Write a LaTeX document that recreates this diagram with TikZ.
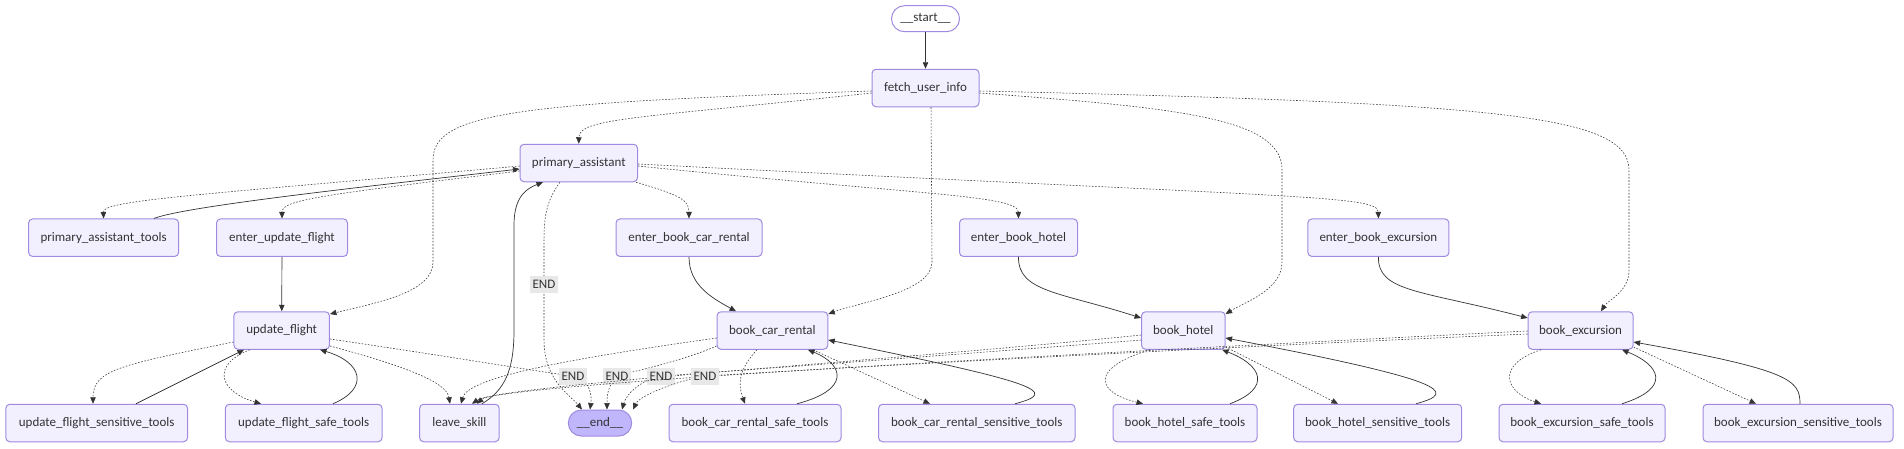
\documentclass[tikz,border=0pt]{standalone}
\usepackage{fontspec}
\setmainfont{Carlito}
\usetikzlibrary{arrows.meta}
\definecolor{NodeFill}{HTML}{F2F0FF}
\definecolor{NodeLine}{HTML}{A08AE0}
\definecolor{FinishFill}{HTML}{BFB6FC}
\definecolor{Ink}{HTML}{333333}
\definecolor{LabelBg}{HTML}{E8E8E8}

\begin{document}
\begin{tikzpicture}[x=1pt,y=-1pt,font=\fontsize{13}{15}\selectfont,text=Ink,
  box/.style={draw=NodeLine,fill=NodeFill,line width=1pt,rounded corners=4pt,minimum height=37.5,inner sep=0},
  term/.style={draw=NodeLine,line width=1pt,rounded corners=13pt,minimum height=26,inner sep=0},
  flow/.style={draw=Ink,line width=0.7pt,-{Triangle[length=6.5pt,width=5.5pt]}},
  cond/.style={flow,line width=0.55pt,dash pattern=on 1.6pt off 1.6pt},
  endlbl/.style={fill=LabelBg,minimum width=28,minimum height=17,inner sep=0}]
  \fill[white] (0,0) rectangle (1904,448);
  \node[term,fill=white,minimum width=68] (start) at (925.5,18.7) {\_\_start\_\_};
  \node[box,minimum width=107] (fetch) at (925.5,88) {fetch\_user\_info};
  \node[box,minimum width=117.5] (pa) at (578.8,163) {primary\_assistant};
  \foreach \n/\x/\w/\txt in {patools/103.6/150/primary\_assistant\_tools,euf/282/131/enter\_update\_flight,
      ecar/689/146/enter\_book\_car\_rental,ehotel/1018.5/118/enter\_book\_hotel,eexc/1378.4/141/enter\_book\_excursion}
    \node[box,minimum width=\w] (\n) at (\x,237.7) {\txt};
  \foreach \n/\x/\w/\txt in {uf/281.7/95.5/update\_flight,car/772.4/110.7/book\_car\_rental,
      hotel/1183.3/83.5/book\_hotel,exc/1580.6/105/book\_excursion}
    \node[box,minimum width=\w] (\n) at (\x,330.5) {\txt};
  \foreach \n/\x/\w/\txt in {ufsens/96.7/181.7/update\_flight\_sensitive\_tools,ufsafe/303.7/156.7/update\_flight\_safe\_tools,
      leave/459.4/79.5/leave\_skill,carsafe/755/172/book\_car\_rental\_safe\_tools,
      carsens/976.8/196.4/book\_car\_rental\_sensitive\_tools,hotelsafe/1185/144/book\_hotel\_safe\_tools,
      hotelsens/1377.7/168/book\_hotel\_sensitive\_tools,excsafe/1582/166/book\_excursion\_safe\_tools,
      excsens/1798/190/book\_excursion\_sensitive\_tools}
    \node[box,minimum width=\w] (\n) at (\x,423) {\txt};
  \node[term,fill=FinishFill,minimum width=63.4] (finish) at (600,423) {\_\_end\_\_};

  \draw[flow] (start) -- (fetch);
  \draw[cond] (fetch.west |- 0,93) .. controls (640,118) and (579,118) .. (pa.north);
  \draw[cond] (fetch.west |- 0,91) .. controls (520,103) and (433,112) .. (433,160) -- (433,262)
    .. controls (433,292) and (380,302) .. (uf.east |- 0,314);
  \draw[cond] (931,0 |- fetch.south) -- (932,262) .. controls (932,292) and (860,302) .. (car.east |- 0,314);
  \draw[cond] (fetch.east |- 0,93) .. controls (1180,108) and (1282,118) .. (1282,170) -- (1282,262)
    .. controls (1282,290) and (1245,302) .. (hotel.east |- 0,314);
  \draw[cond] (fetch.east |- 0,91) .. controls (1500,103) and (1629,115) .. (1629,170) -- (1629,270)
    .. controls (1629,292) and (1608,300) .. (1601,0 |- exc.north);

  \draw[cond] (pa.west |- 0,166) .. controls (200,195) and (103,200) .. (patools.north);
  \draw[flow] (154,0 |- patools.north) .. controls (185,206) and (380,185) .. (pa.west |- 0,169);
  \draw[cond] (pa.west |- 0,171) .. controls (320,195) and (282,200) .. (euf.north);
  \draw[cond] (636,0 |- pa.south) .. controls (680,195) and (689,200) .. (ecar.north);
  \draw[cond] (pa.east |- 0,166) .. controls (920,195) and (1018,195) .. (ehotel.north);
  \draw[cond] (pa.east |- 0,164) .. controls (1300,198) and (1378,195) .. (eexc.north);
  \draw[cond] (560,0 |- pa.south) .. controls (547,200) and (544,215) .. (544,240)
    -- node[endlbl,pos=.44] {END} (544,340) .. controls (544,380) and (570,395) .. (582,0 |- finish.north);
  \draw[flow] (482,0 |- leave.north) .. controls (505,390) and (514,370) .. (514,330) -- (514,225)
    .. controls (514,195) and (528,188) .. (543,0 |- pa.south);

  \draw[flow] (euf) -- (uf);
  \draw[flow] (ecar.south) .. controls (689,285) and (712,298) .. (736,0 |- car.north);
  \draw[flow] (ehotel.south) .. controls (1018,292) and (1060,292) .. (hotel.west |- 0,318);
  \draw[flow] (eexc.south) .. controls (1378,292) and (1420,290) .. (exc.west |- 0,318);

  \draw[cond] (uf.west |- 0,342) .. controls (120,365) and (93,370) .. (93,0 |- ufsens.north);
  \draw[flow] (136,0 |- ufsens.north) -- (244,0 |- uf.south);
  \draw[cond] (250,0 |- uf.south) .. controls (210,365) and (220,392) .. (261,0 |- ufsafe.north);
  \draw[flow] (333,0 |- ufsafe.north) .. controls (370,388) and (362,362) .. (320,0 |- uf.south);
  \draw[cond] (uf.east |- 0,346) .. controls (420,370) and (447,385) .. (450,0 |- leave.north);
  \draw[cond] (uf.east |- 0,339) .. controls (460,358) and (540,372) .. (573,376) node[endlbl] {END}
    .. controls (590,380) and (592,395) .. (590,0 |- finish.north);

  \draw[cond] (car.west |- 0,338) .. controls (560,360) and (468,378) .. (461,0 |- leave.north);
  \draw[cond] (car.west |- 0,346) .. controls (680,362) and (630,372) .. (617,376) node[endlbl] {END}
    .. controls (608,385) and (607,395) .. (607,0 |- finish.north);
  \draw[cond] (757,0 |- car.south) .. controls (738,370) and (738,385) .. (745,0 |- carsafe.north);
  \draw[flow] (797,0 |- carsafe.north) .. controls (850,390) and (845,365) .. (808,0 |- car.south);
  \draw[cond] (813,0 |- car.south) -- (930,0 |- carsens.north);
  \draw[flow] (1015,0 |- carsens.north) .. controls (1060,392) and (1040,383) .. (car.east |- 0,340);

  \draw[cond] (hotel.west |- 0,335) .. controls (900,360) and (500,385) .. (472,0 |- leave.north);
  \draw[cond] (hotel.west |- 0,340) .. controls (950,355) and (720,372) .. (661,376) node[endlbl] {END}
    .. controls (640,380) and (626,395) .. (622,0 |- finish.north);
  \draw[cond] (1150,0 |- hotel.south) .. controls (1090,368) and (1095,392) .. (1143,0 |- hotelsafe.north);
  \draw[flow] (1230,0 |- hotelsafe.north) .. controls (1272,388) and (1262,365) .. (1222,0 |- hotel.south);
  \draw[cond] (hotel.east |- 0,347) -- (1338,0 |- hotelsens.north);
  \draw[flow] (1416,0 |- hotelsens.north) .. controls (1460,392) and (1445,380) .. (hotel.east |- 0,338);

  \draw[cond] (exc.west |- 0,331) .. controls (1150,350) and (500,383) .. (477,0 |- leave.north);
  \draw[cond] (exc.west |- 0,334) .. controls (1150,350) and (770,372) .. (705,376) node[endlbl] {END}
    .. controls (680,380) and (640,395) .. (633,0 |- finish.north);
  \draw[cond] (1541,0 |- exc.south) .. controls (1495,365) and (1505,392) .. (1541,0 |- excsafe.north);
  \draw[flow] (1622,0 |- excsafe.north) .. controls (1672,388) and (1660,365) .. (1622,0 |- exc.south);
  \draw[cond] (exc.east |- 0,347) -- (1756,0 |- excsens.north);
  \draw[flow] (1800,0 |- excsens.north) .. controls (1800,380) and (1790,370) .. (exc.east |- 0,342);
\end{tikzpicture}
\end{document}
